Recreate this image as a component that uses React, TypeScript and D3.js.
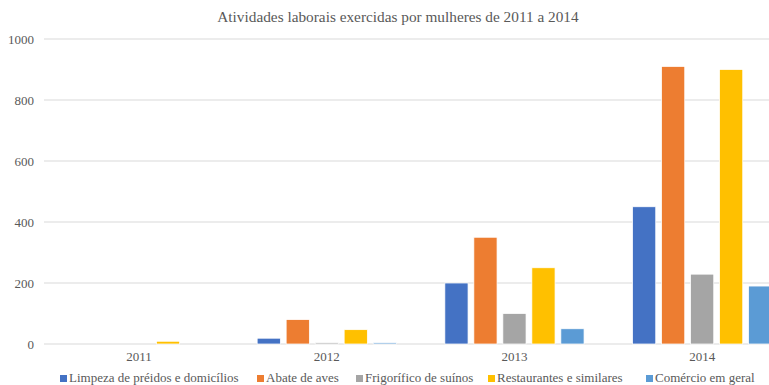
import React from "react";
import * as d3 from "d3";

const categories = ["2011", "2012", "2013", "2014"];
const seriesNames = [
  "Limpeza de préidos e domicílios",
  "Abate de aves",
  "Frigorífico de suínos",
  "Restaurantes e similares",
  "Comércio em geral",
];
const limpeza = [0, 19, 200, 450];
const abate = [0, 80, 350, 910];
const frigorifico = [0, 4, 100, 229];
const restaurantes = [9, 47, 250, 900];
const comercio = [0, 4, 50, 190];
const seriesValues = [limpeza, abate, frigorifico, restaurantes, comercio];
const colors = ["#4472C4", "#ED7D31", "#A5A5A5", "#FFC000", "#5B9BD5"];
const yTicks = [0, 200, 400, 600, 800, 1000];
const title = "Atividades laborais exercidas por mulheres de 2011 a 2014";

const W = 769;
const H = 385;
const FONT = "'Liberation Serif', serif";

export default function App() {
  const x0 = d3.scaleBand<string>().domain(categories).range([45.2, 796]).paddingInner(0).paddingOuter(0);
  const x1 = d3
    .scaleBand<string>()
    .domain(seriesNames)
    .range([-69.6, 69.6])
    .paddingInner(0.2)
    .paddingOuter(0);
  const y = d3.scaleLinear().domain([0, 1000]).range([344, 39]);

  const legendX = [60, 257, 356, 488, 646];

  return (
    <svg width={W} height={H} style={{ position: "absolute", left: 0, top: 0, overflow: "hidden" }} fontFamily={FONT}>
      <rect x={0} y={0} width={W} height={H} fill="#fff" />
      <text x={398} y={22} textAnchor="middle" fontSize={15.3} fill="#595959">
        {title}
      </text>
      {yTicks.map((t) => (
        <g key={t}>
          <line x1={44} x2={W} y1={y(t)} y2={y(t)} stroke="#d9d9d9" strokeWidth={1} />
          <text x={34} y={y(t)} dy="0.35em" textAnchor="end" fontSize={13} fill="#595959">
            {t}
          </text>
        </g>
      ))}
      {categories.map((c, ci) => {
        const cx = (x0(c) as number) + x0.bandwidth() / 2;
        return (
          <g key={c}>
            {seriesNames.map((s, si) => {
              const v = seriesValues[si][ci];
              if (v <= 0) return null;
              const bx = cx + (x1(s) as number);
              return (
                <rect
                  key={s}
                  x={bx}
                  y={y(v)}
                  width={x1.bandwidth()}
                  height={y(0) - y(v)}
                  fill={colors[si]}
                  stroke="#fff"
                  strokeWidth={0.75}
                />
              );
            })}
            <text x={cx} y={361} textAnchor="middle" fontSize={13} fill="#595959">
              {c}
            </text>
          </g>
        );
      })}
      {seriesNames.map((s, si) => (
        <g key={s}>
          <rect x={legendX[si]} y={375} width={7} height={7} fill={colors[si]} />
          <text x={legendX[si] + 9} y={382} fontSize={13} fill="#595959">
            {s}
          </text>
        </g>
      ))}
    </svg>
  );
}
